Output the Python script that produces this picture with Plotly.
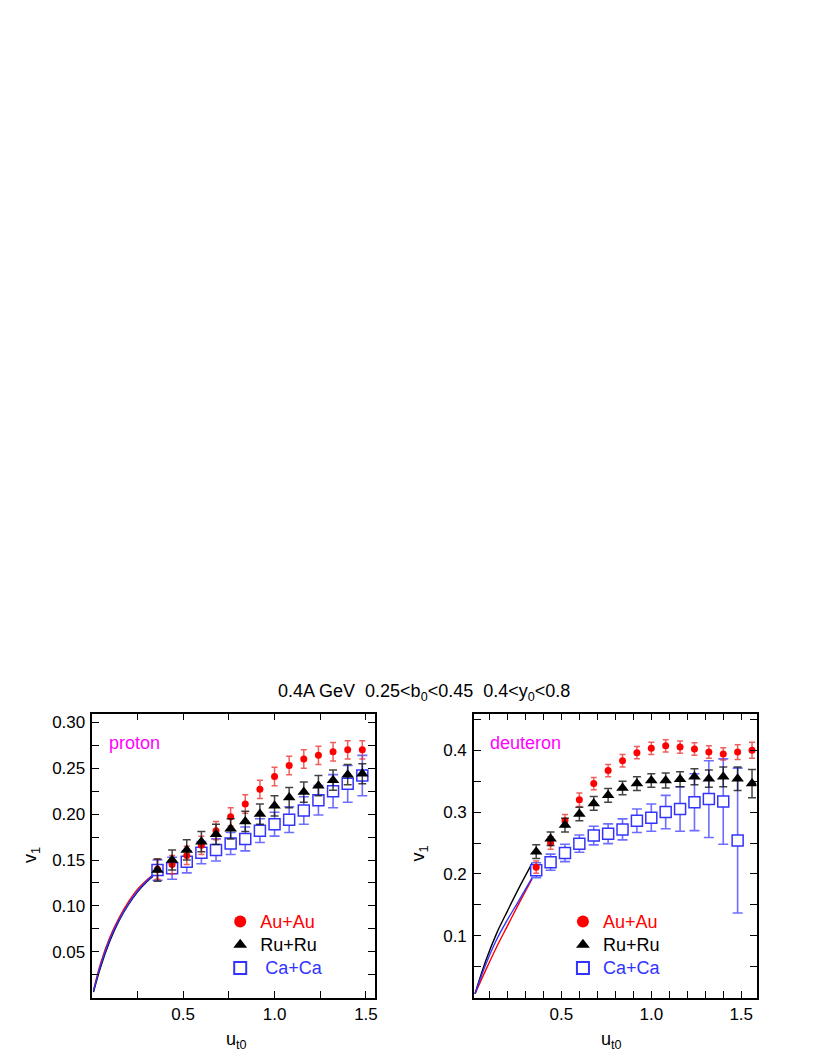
import plotly.graph_objects as go

# ---------------- data ----------------
x_p = [0.36, 0.44, 0.52, 0.60, 0.68, 0.76, 0.84, 0.92, 1.00, 1.08, 1.16, 1.24, 1.32, 1.40, 1.48]
au_p = [0.140, 0.145, 0.155, 0.166, 0.182, 0.197, 0.211, 0.227, 0.241, 0.253, 0.260, 0.264, 0.268, 0.270, 0.270]
au_p_err = [0.011, 0.010, 0.010, 0.010, 0.010, 0.010, 0.010, 0.010, 0.010, 0.010, 0.010, 0.010, 0.010, 0.010, 0.010]
ru_p = [0.139, 0.150, 0.161, 0.170, 0.178, 0.184, 0.192, 0.200, 0.209, 0.218, 0.224, 0.231, 0.237, 0.243, 0.244]
ru_p_err = [0.012, 0.011, 0.011, 0.011, 0.011, 0.011, 0.011, 0.011, 0.011, 0.011, 0.011, 0.011, 0.011, 0.011, 0.011]
ca_p = [0.139, 0.141, 0.148, 0.158, 0.161, 0.168, 0.173, 0.182, 0.189, 0.194, 0.204, 0.215, 0.225, 0.233, 0.242]
ca_p_err = [0.011, 0.012, 0.012, 0.012, 0.012, 0.012, 0.013, 0.013, 0.013, 0.014, 0.015, 0.016, 0.018, 0.020, 0.022]

x_d = [0.36, 0.44, 0.52, 0.60, 0.68, 0.76, 0.84, 0.92, 1.00, 1.08, 1.16, 1.24, 1.32, 1.40, 1.48, 1.56]
au_d = [0.211, 0.250, 0.286, 0.320, 0.346, 0.367, 0.383, 0.396, 0.403, 0.407, 0.405, 0.402, 0.397, 0.394, 0.397, 0.400]
au_d_err = [0.010, 0.010, 0.010, 0.011, 0.010, 0.010, 0.010, 0.010, 0.010, 0.010, 0.010, 0.010, 0.010, 0.010, 0.012, 0.013]
ru_d = [0.236, 0.257, 0.279, 0.297, 0.314, 0.327, 0.339, 0.346, 0.351, 0.351, 0.353, 0.357, 0.354, 0.357, 0.354, 0.346]
ru_d_err = [0.011, 0.011, 0.011, 0.011, 0.011, 0.011, 0.011, 0.011, 0.011, 0.012, 0.012, 0.013, 0.014, 0.016, 0.019, 0.023]
x_d_ca = [0.36, 0.44, 0.52, 0.60, 0.68, 0.76, 0.84, 0.92, 1.00, 1.08, 1.16, 1.24, 1.32, 1.40, 1.48]
ca_d = [0.206, 0.219, 0.234, 0.249, 0.262, 0.265, 0.272, 0.286, 0.291, 0.300, 0.305, 0.316, 0.321, 0.317, 0.254]
ca_d_err = [0.012, 0.013, 0.014, 0.014, 0.015, 0.016, 0.017, 0.019, 0.022, 0.027, 0.036, 0.046, 0.062, 0.069, 0.117]

# low-pt model curves
cx_p = [0.01, 0.05, 0.10, 0.15, 0.20, 0.25, 0.30, 0.335]
cau_p = [0.008, 0.038, 0.066, 0.087, 0.104, 0.118, 0.128, 0.134]
cru_p = [0.006, 0.034, 0.062, 0.084, 0.101, 0.115, 0.126, 0.132]
cca_p = [0.007, 0.036, 0.064, 0.085, 0.102, 0.116, 0.127, 0.133]

cx_d = [0.02, 0.08, 0.14, 0.20, 0.26, 0.337]
cau_d = [0.0065, 0.045, 0.082, 0.116, 0.150, 0.192]
cru_d = [0.0065, 0.060, 0.104, 0.140, 0.175, 0.217]
cca_d = [0.0065, 0.054, 0.094, 0.126, 0.155, 0.1935]

names = ["Au+Au", "Ru+Ru", "Ca+Ca"]
RED, BLACK, BLUE = "#ff0000", "#000000", "#3333ff"

# page body has an 8px margin; figure sized to fill the rest of the window
OFF = 8
W, H = 809, 1050
FONT = "Liberation Sans, Arial, sans-serif"

fig = go.Figure()

def lname(color, text, pad=""):
    return '<span style="color:%s;font-size:18px">%s%s</span>' % (color, pad, text)

def add_panel(xa, ya, legend, xs, ys, errs, cx, cys, ca_pad):
    colors = [RED, BLACK, BLUE]
    for cy, c in zip(cys, colors):
        fig.add_trace(go.Scatter(x=cx, y=cy, mode="lines", line=dict(color=c, width=1.4, shape="spline"),
                                 showlegend=False, xaxis=xa, yaxis=ya, hoverinfo="skip"))
    fig.add_trace(go.Scatter(x=xs[2], y=ys[2], mode="markers", xaxis=xa, yaxis=ya,
                             name=lname(BLUE, names[2], ca_pad), legend=legend, legendrank=3,
                             marker=dict(symbol="square", size=11, color="white", line=dict(color=BLUE, width=1.5)),
                             error_y=dict(type="data", array=errs[2], color="rgba(60,60,255,0.75)", thickness=1.6, width=5)))
    fig.add_trace(go.Scatter(x=xs[0], y=ys[0], mode="markers", xaxis=xa, yaxis=ya,
                             name=lname(RED, names[0]), legend=legend, legendrank=1,
                             marker=dict(symbol="circle", size=7, color=RED),
                             error_y=dict(type="data", array=errs[0], color="rgba(235,40,40,0.75)", thickness=1.5, width=3)))
    fig.add_trace(go.Scatter(x=xs[1], y=ys[1], mode="markers", xaxis=xa, yaxis=ya,
                             name=lname(BLACK, names[1]), legend=legend, legendrank=2,
                             marker=dict(symbol="triangle-up", size=11, color=BLACK),
                             error_y=dict(type="data", array=errs[1], color="rgba(20,20,20,0.8)", thickness=1.5, width=4)))

add_panel("x", "y", "legend", [x_p, x_p, x_p], [au_p, ru_p, ca_p], [au_p_err, ru_p_err, ca_p_err],
          cx_p, [cau_p, cru_p, cca_p], "&nbsp;")
add_panel("x2", "y2", "legend2", [x_d, x_d, x_d_ca], [au_d, ru_d, ca_d], [au_d_err, ru_d_err, ca_d_err],
          cx_d, [cau_d, cru_d, cca_d], "")

def px_x(p):
    return (p - OFF) / W

def px_y(p):
    return 1 - (p - OFF) / H

axis_common = dict(showline=True, linecolor="black", linewidth=1.5, mirror="allticks",
                   ticks="inside", ticklen=7, tickwidth=1.2, tickcolor="black",
                   showgrid=False, zeroline=False,
                   tickfont=dict(family=FONT, size=17, color="black"))
minor_common = dict(ticks="inside", ticklen=7, tickwidth=1.2, tickcolor="black", tick0=0)

ydom = [px_y(997.7), px_y(713.7)]
leg_common = dict(xanchor="left", yanchor="top", bgcolor="rgba(0,0,0,0)", borderwidth=0,
                  itemsizing="constant", tracegroupgap=0, traceorder="normal",
                  font=dict(family=FONT, size=15.5))
fig.update_layout(
    width=W, height=H, margin=dict(l=0, r=0, t=0, b=0),
    paper_bgcolor="white", plot_bgcolor="white",
    font=dict(family=FONT, size=17, color="black"),
    xaxis=dict(domain=[px_x(92.7), px_x(376.3)], range=[0.004, 1.549], anchor="y",
               tickvals=[0.5, 1.0, 1.5], tickformat=".1f",
               minor=dict(dtick=0.25, **minor_common), **axis_common),
    yaxis=dict(domain=ydom, range=[0, 0.3094], anchor="x", ticklabelstandoff=2,
               tickvals=[0.05, 0.10, 0.15, 0.20, 0.25, 0.30], tickformat=".2f",
               minor=dict(dtick=0.025, **minor_common), **axis_common),
    xaxis2=dict(domain=[px_x(475.7), px_x(759.3)], range=[0.014, 1.585], anchor="y2",
                tickvals=[0.5, 1.0, 1.5], tickformat=".1f",
                minor=dict(dtick=0.1, **minor_common), **axis_common),
    yaxis2=dict(domain=ydom, range=[0, 0.459], anchor="x2", ticklabelstandoff=2,
                tickvals=[0.1, 0.2, 0.3, 0.4], tickformat=".1f",
                minor=dict(dtick=0.05, **minor_common), **axis_common),
    legend=dict(x=px_x(221), y=px_y(905), **leg_common),
    legend2=dict(x=px_x(565), y=px_y(905), **leg_common),
)

ann = [
    dict(text="0.4A GeV&nbsp;&nbsp;0.25&lt;b<sub>0</sub>&lt;0.45&nbsp;&nbsp;0.4&lt;y<sub>0</sub>&lt;0.8",
         x=px_x(426), y=px_y(692), font=dict(size=18)),
    dict(text="proton", x=px_x(107), y=px_y(743), xanchor="left", font=dict(size=18, color="#ff00ff")),
    dict(text="deuteron", x=px_x(490), y=px_y(743), xanchor="left", font=dict(size=18, color="#ff00ff")),
    dict(text="v<sub>1</sub>", x=px_x(31), y=px_y(855), textangle=-90, font=dict(size=18)),
    dict(text="v<sub>1</sub>", x=px_x(421), y=px_y(853), textangle=-90, font=dict(size=18)),
    dict(text="u<sub>t0</sub>", x=px_x(237), y=px_y(1040), font=dict(size=18)),
    dict(text="u<sub>t0</sub>", x=px_x(614), y=px_y(1040), font=dict(size=18)),
]
for a in ann:
    a.setdefault("xref", "paper")
    a.setdefault("yref", "paper")
    a.setdefault("showarrow", False)
    a.setdefault("xanchor", "center")
    a.setdefault("yanchor", "middle")
    fig.add_annotation(**a)

fig.write_html("out.html")
